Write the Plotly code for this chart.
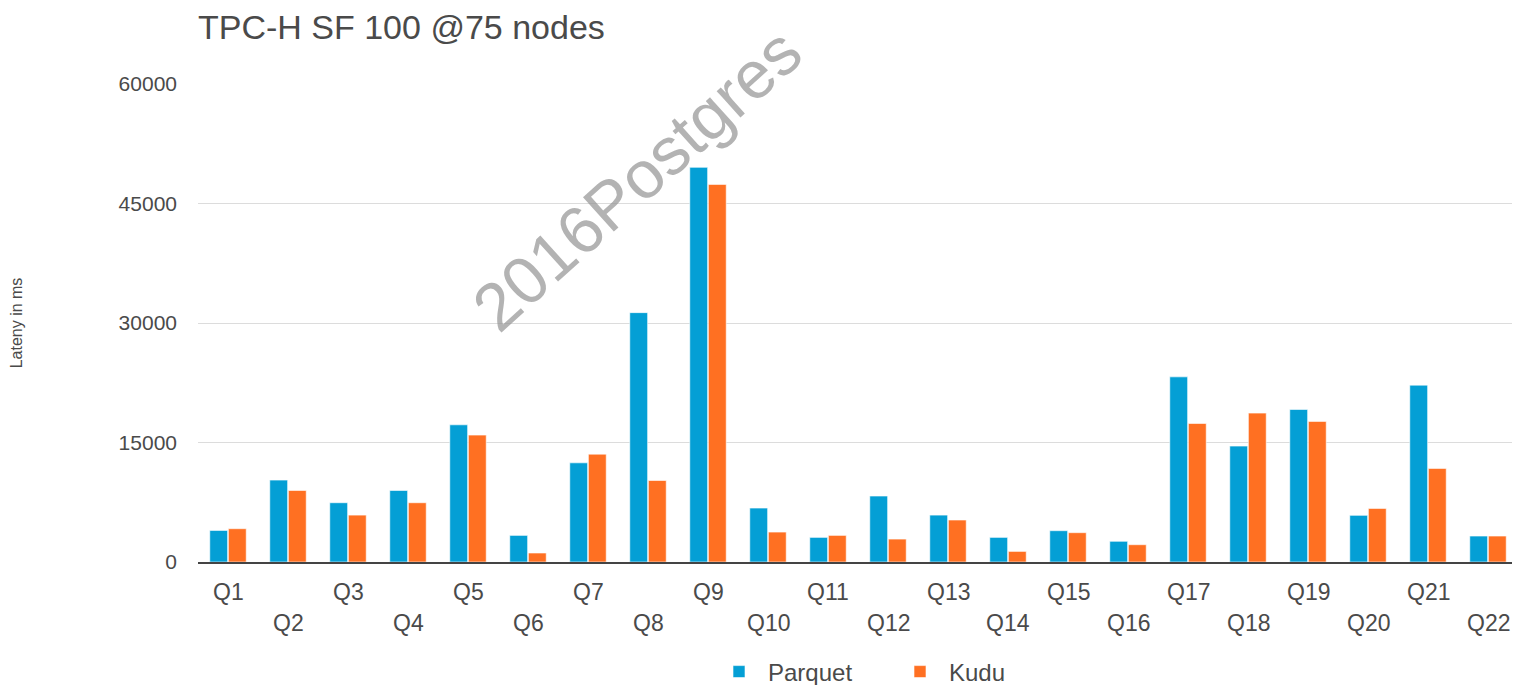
import plotly.graph_objects as go

categories = [f"Q{i}" for i in range(1, 23)]
parquet = [3960, 10280, 7440, 8980, 17220, 3340, 12450, 31300, 49540, 6770, 3090,
           8280, 5890, 3090, 3930, 2600, 23240, 14550, 19150, 5860, 22200, 3260]
kudu = [4180, 8980, 5890, 7440, 15930, 1130, 13540, 10230, 47400, 3760, 3340,
        2880, 5270, 1330, 3680, 2170, 17390, 18690, 17650, 6730, 11750, 3260]
y_ticks = [0, 15000, 30000, 45000, 60000]

FONT = "Liberation Sans, Arial, Helvetica, sans-serif"
TEXT = "#4a4a4a"

# the page body has an 8px default margin, so the figure is sized to fit
W, H = 1512, 677

fig = go.Figure()
fig.add_trace(go.Bar(name="Parquet", x=categories, y=parquet,
                     marker=dict(color="#049fd5", line=dict(color="rgba(255,255,255,0.6)", width=1))))
fig.add_trace(go.Bar(name="Kudu", x=categories, y=kudu,
                     marker=dict(color="#ff7022", line=dict(color="rgba(255,255,255,0.6)", width=1))))

annotations = []
for i, c in enumerate(categories):
    annotations.append(dict(x=c, xref="x", y=0, yref="paper", text=c, showarrow=False,
                            yanchor="middle", yshift=-30 if i % 2 == 0 else -61,
                            font=dict(family=FONT, size=23, color=TEXT)))
annotations.append(dict(x=0.332, y=0.801, xref="paper", yref="paper", text="2016Postgres",
                        showarrow=False, textangle=-42, xanchor="center", yanchor="middle",
                        font=dict(family=FONT, size=67, color="rgba(150,150,150,0.72)")))

fig.update_layout(
    width=W, height=H,
    margin=dict(l=190, r=2, t=76, b=123),
    paper_bgcolor="white", plot_bgcolor="white",
    barmode="group", bargap=0.38, bargroupgap=0.04,
    title=dict(text="TPC-H SF 100 @75 nodes", x=0, xref="paper", xanchor="left",
               y=1 - 19.5 / H, yref="container", yanchor="middle",
               font=dict(family=FONT, size=34, color=TEXT)),
    font=dict(family=FONT, color=TEXT),
    legend=dict(orientation="h", x=0.525, xanchor="center", xref="paper",
                y=1 - 664 / H, yref="container", yanchor="middle",
                font=dict(family=FONT, size=24, color=TEXT), itemwidth=48,
                entrywidth=118, entrywidthmode="pixels", traceorder="normal"),
    xaxis=dict(showticklabels=False, showgrid=False, showline=True, linecolor="#444",
               linewidth=2, ticks="", range=[-0.5, 21.5]),
    yaxis=dict(range=[0, 60000], tickvals=y_ticks, ticktext=[str(v) for v in y_ticks],
               showgrid=True, gridcolor="#dcdcdc", gridwidth=1, zeroline=False,
               ticks="", ticklabelstandoff=20,
               tickfont=dict(family=FONT, size=21, color=TEXT),
               title=dict(text="Lateny in ms", standoff=95,
                          font=dict(family=FONT, size=16, color=TEXT))),
    annotations=annotations,
)

fig.write_html("out.html")
